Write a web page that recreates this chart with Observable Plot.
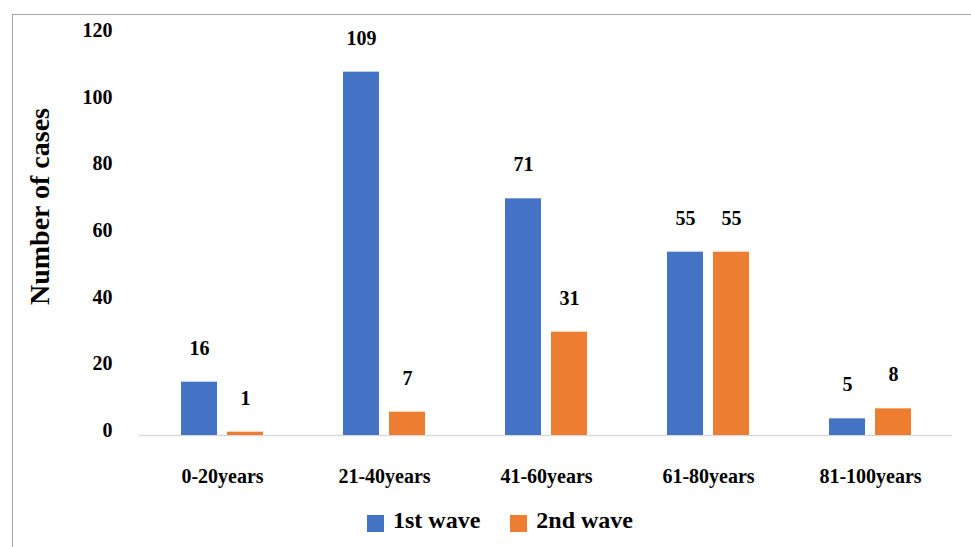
<!DOCTYPE html>
<html>
<head>
<meta charset="utf-8">
<script src="https://cdn.jsdelivr.net/npm/d3@7"></script>
<script src="https://cdn.jsdelivr.net/npm/@observablehq/plot@0.6"></script>
<style>
  body { margin: 0; background: #fff; font-family: "Liberation Serif", serif; }
  #wrap { position: relative; width: 971px; height: 547px; overflow: hidden; }
  #frame { position: absolute; left: 12px; top: 14px; width: 1000px; height: 600px;
           border-left: 1.5px solid #a6a6a6; border-top: 1.5px solid #a6a6a6; box-sizing: border-box; }
  #chart { position: absolute; left: 0; top: 0; }
  #chart svg, #chart svg text { font-family: "Liberation Serif", serif !important; }
  #legend { position: absolute; top: 507px; left: 0; width: 1000px; display: flex; justify-content: center;
            font: bold 24px "Liberation Serif", serif; color: #000; }
  .item { display: flex; align-items: center; margin: 0 15px; }
  .sw { width: 17px; height: 17px; margin-right: 9px; margin-top: 5px; }
</style>
</head>
<body>
<div id="wrap">
  <div id="frame"></div>
  <div id="chart"></div>
  <div id="legend"></div>
</div>
<script>
const groups = ["0-20years", "21-40years", "41-60years", "61-80years", "81-100years"];
const wave1 = [16, 109, 71, 55, 5];
const wave2 = [1, 7, 31, 55, 8];
const seriesNames = ["1st wave", "2nd wave"];
const seriesColors = ["#4472C4", "#ED7D31"];
const yTicks = [0, 20, 40, 60, 80, 100, 120];
const yLabel = "Number of cases";

const d1 = groups.map((g, i) => ({group: g, value: wave1[i]}));
const d2 = groups.map((g, i) => ({group: g, value: wave2[i]}));
const font = "'Liberation Serif', serif";

const plot = Plot.plot({
  width: 971,
  height: 500,
  marginLeft: 139,
  marginRight: 19,
  marginTop: 35,
  marginBottom: 65,
  style: {background: "transparent", fontFamily: font},
  x: {domain: groups, paddingInner: 0.496, paddingOuter: 0.248, axis: null},
  y: {domain: [0, 120], axis: null},
  marks: [
    Plot.ruleY([0], {stroke: "#d9d9d9", strokeWidth: 1.5}),
    Plot.barY(d1, {x: "group", y: "value", fill: seriesColors[0], insetRight: 46}),
    Plot.barY(d2, {x: "group", y: "value", fill: seriesColors[1], insetLeft: 46}),
    Plot.text(d1, {x: "group", y: "value", text: d => String(d.value), dx: -23, dy: -34,
      fontSize: 20, fontWeight: "bold", fontFamily: font, fill: "#000"}),
    Plot.text(d2, {x: "group", y: "value", text: d => String(d.value), dx: 23, dy: -34,
      fontSize: 20, fontWeight: "bold", fontFamily: font, fill: "#000"}),
    Plot.axisY({ticks: yTicks, tickSize: 0, tickPadding: 27, dy: -5, fontSize: 20, fontFamily: font,
      fontWeight: "bold", label: null, tickFormat: d => String(d), fill: "#000"}),
    Plot.axisX({tickSize: 0, tickPadding: 33, fontSize: 20, fontWeight: "bold", fontFamily: font,
      label: null, fill: "#000"}),
    Plot.text([yLabel], {frameAnchor: "left", textAnchor: "middle", text: d => d, rotate: -90,
      dx: -99, dy: -29, fontSize: 28, fontWeight: "bold", fontFamily: font, fill: "#000"})
  ]
});
document.getElementById("chart").appendChild(plot);

const legend = document.getElementById("legend");
seriesNames.forEach((name, i) => {
  const item = document.createElement("div");
  item.className = "item";
  const sw = document.createElement("span");
  sw.className = "sw";
  sw.style.background = seriesColors[i];
  item.appendChild(sw);
  item.appendChild(document.createTextNode(name));
  legend.appendChild(item);
});
</script>
</body>
</html>
